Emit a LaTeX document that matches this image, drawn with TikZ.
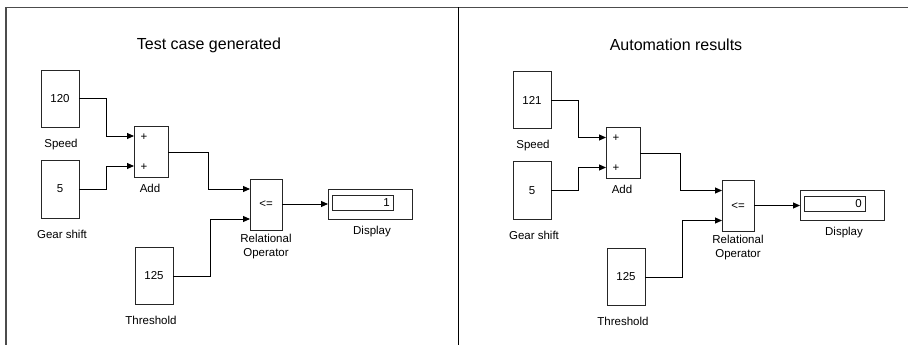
\documentclass[tikz,border=0pt]{standalone}
\usepackage{fontspec}
\setmainfont{Liberation Sans}
\usetikzlibrary{arrows.meta}
\tikzset{
  blk/.style={draw=black!85, line width=0.9pt, fill=white, inner sep=0pt},
  lbl/.style={font=\fontsize{11.5}{14}\selectfont, inner sep=0pt, align=center, text height=8.5pt, text depth=2.5pt},
  lbltwo/.style={font=\fontsize{11.5}{14}\selectfont, inner sep=0pt, align=center},
  val/.style={font=\fontsize{11.5}{14}\selectfont, inner sep=0pt},
  ttl/.style={font=\fontsize{16}{19}\selectfont, inner sep=0pt},
  sig/.style={line width=0.9pt, -{Triangle[length=7pt,width=6pt]}},
  frame/.style={draw=black!70, line width=1.3pt}
}
\newcommand\mypanel[3]{%
  \node[blk, minimum width=38pt, minimum height=57pt] (#1speed) at (60,98.5) {};
  \node[val] (#1speedv) at (#1speed) {#2};
  \node[lbl] (#1speedl) at (61,144) {Speed};
  \node[blk, minimum width=38pt, minimum height=58pt] (#1gear) at (60,189) {};
  \node[val] (#1gearv) at (#1gear) {5};
  \node[lbl] (#1gearl) at (62,235) {Gear shift};
  \node[blk, minimum width=34pt, minimum height=51pt] (#1add) at (151,151.5) {};
  \node[val] (#1p1) at (144,137) {+};
  \node[val] (#1p2) at (144,167) {+};
  \node[lbl] (#1addl) at (150,189) {Add};
  \coordinate (#1addin1) at (134,136);
  \coordinate (#1addin2) at (134,166);
  \coordinate (#1addout) at (168,152);
  \node[blk, minimum width=38pt, minimum height=57pt] (#1thr) at (154,275.5) {};
  \node[val] (#1thrv) at (#1thr) {125};
  \node[lbl] (#1thrl) at (151,321) {Threshold};
  \node[blk, minimum width=32pt, minimum height=51pt] (#1rel) at (266,204.5) {};
  \node[val] (#1relv) at (#1rel) {<=};
  \node[lbltwo, anchor=north] (#1rell) at (266,233.5) {Relational\\Operator};
  \coordinate (#1relin1) at (250,189);
  \coordinate (#1relin2) at (250,219);
  \coordinate (#1relout) at (282,204);
  \node[blk, minimum width=84pt, minimum height=30pt] (#1disp) at (370,204) {};
  \node[blk, minimum width=61pt, minimum height=15pt] (#1dispin) at (362.5,202.5) {};
  \node[val, anchor=east] (#1dispv) at (390,202.5) {#3};
  \node[lbl] (#1displ) at (372,231) {Display};
  \coordinate (#1dispinp) at (328,204);
  \draw[sig] (#1speed.east |- 0,98.5) -- ++(27,0) |- (#1addin1);
  \draw[sig] (#1gear.east |- 0,189) -- ++(27,0) |- (#1addin2);
  \draw[sig] (#1addout) -- ++(40,0) |- (#1relin1);
  \draw[sig] (#1thr.east |- 0,276) -- ++(37,0) |- (#1relin2);
  \draw[sig] (#1relout) -- (#1dispinp);
}
\begin{document}
\begin{tikzpicture}[x=1pt,y=-1pt]
\useasboundingbox[fill=white] (0,0) rectangle (908,345);
\coordinate (tl) at (6,7.5);
\coordinate (tr) at (908,7.5);
\coordinate (bl) at (6,345);
\coordinate (dt) at (458,7.5);
\coordinate (db) at (458,345);
\draw[frame] (bl) -- (tl) -- (tr);
\draw[line width=1pt] (dt) -- (db);
\node[ttl] (t1) at (209,45) {Test case generated};
\node[ttl] (t2) at (676,45) {Automation results};
\begin{scope}
\mypanel{a}{120}{1}
\end{scope}
\begin{scope}[shift={(472,1.5)}]
\mypanel{b}{121}{0}
\end{scope}
\end{tikzpicture}
\end{document}
